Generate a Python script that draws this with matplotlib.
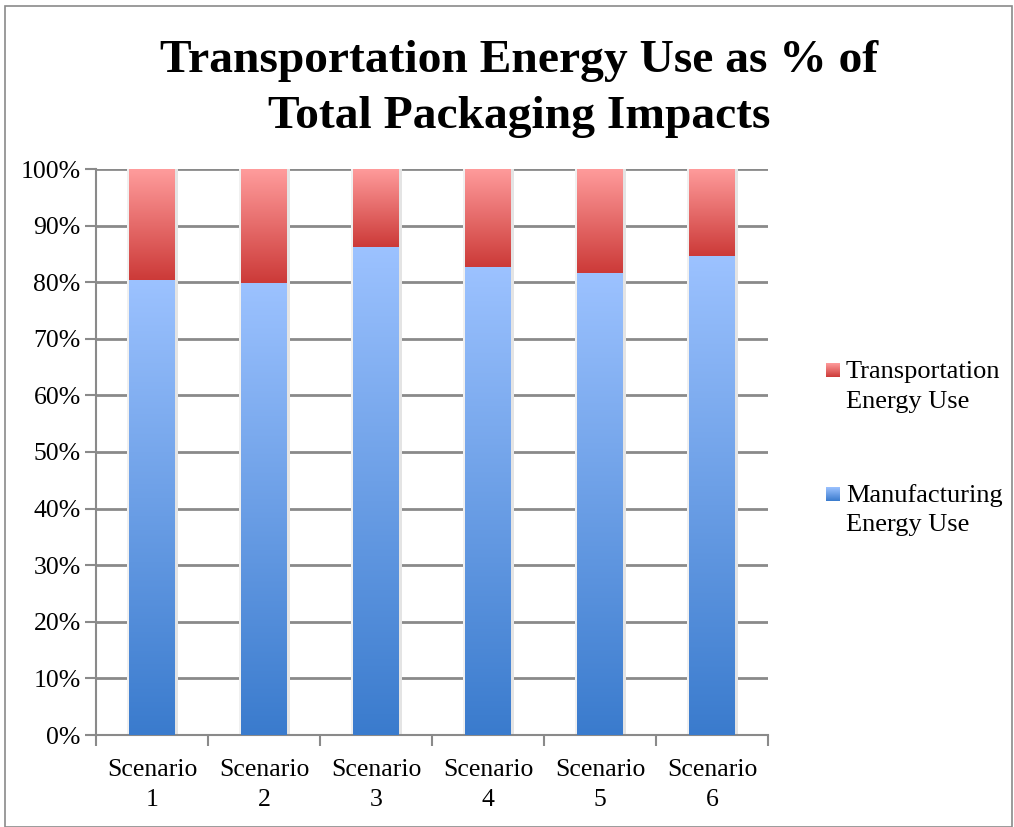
import numpy as np
import matplotlib.pyplot as plt
from matplotlib.colors import LinearSegmentedColormap
from matplotlib.patches import Rectangle

scenarios = ["Scenario\n1", "Scenario\n2", "Scenario\n3", "Scenario\n4", "Scenario\n5", "Scenario\n6"]
manufacturing = [80.4, 79.9, 86.2, 82.6, 81.6, 84.6]
transportation = [100 - m for m in manufacturing]

plt.rcParams['font.family'] = ['Liberation Serif', 'DejaVu Serif']

blue_cmap = LinearSegmentedColormap.from_list("blue", ["#3a7bcd", "#9cc2ff"])
red_cmap = LinearSegmentedColormap.from_list("red", ["#cc3a38", "#ff9c9c"])

W, H = 1014, 827
fig = plt.figure(figsize=(W / 100, H / 100), dpi=100)
ax = fig.add_axes([96 / W, 1 - 735 / H, 672 / W, 566 / H])

x = np.arange(len(scenarios))
width = 0.41
grad = np.linspace(0, 1, 256).reshape(-1, 1)


def gradient_bars(bottoms, heights, cmap, z):
    bars = ax.bar(x, heights, width, bottom=bottoms, color="none", zorder=z)
    for b in bars:
        bx, by = b.get_x(), b.get_y()
        bw, bh = b.get_width(), b.get_height()
        # soft shadow on either side of each bar
        ax.add_patch(Rectangle((bx + bw, by), 0.025, bh, color="#e4e4e4", zorder=z - 0.5, lw=0))
        ax.add_patch(Rectangle((bx - 0.015, by), 0.015, bh, color="#f0f0f0", zorder=z - 0.5, lw=0))
        im = ax.imshow(grad, cmap=cmap, extent=[bx, bx + bw, by, by + bh],
                       origin="lower", aspect="auto", zorder=z)
        im.set_clip_path(b)
    return bars


gradient_bars([0] * 6, manufacturing, blue_cmap, 3)
gradient_bars(manufacturing, transportation, red_cmap, 3)

ax.set_xlim(-0.5, 5.5)
ax.set_ylim(0, 100)
ax.set_yticks(range(0, 101, 10))
ax.set_yticklabels([f"{v}%" for v in range(0, 101, 10)], fontsize=18.5)
ax.yaxis.grid(True, color="#8a8a8a", lw=2)
ax.set_axisbelow(True)

ax.set_xticks(x)
ax.set_xticklabels(scenarios, fontsize=18.5, linespacing=1.5)
ax.set_xticks(np.arange(-0.5, 6, 1), minor=True)
ax.tick_params(axis="x", which="major", length=0, pad=17)
ax.tick_params(axis="x", which="minor", length=8, width=1.5, color="#8a8a8a")
ax.tick_params(axis="y", length=8, width=1.5, color="#8a8a8a", pad=3)

for s in ["top", "right"]:
    ax.spines[s].set_visible(False)
for s in ["left", "bottom"]:
    ax.spines[s].set_color("#8a8a8a")
    ax.spines[s].set_linewidth(1.5)

fig.text(519 / W, 1 - 89 / H, "Transportation Energy Use as % of\nTotal Packaging Impacts",
         ha="center", va="center", fontsize=34.2, fontweight="bold", linespacing=1.43)

# legend with gradient swatches
for top, cmap in [(363, red_cmap), (487, blue_cmap)]:
    sw = fig.add_axes([826 / W, 1 - (top + 14) / H, 14 / W, 14 / H])
    sw.imshow(grad, cmap=cmap, origin="lower", aspect="auto")
    sw.axis("off")
fig.text(846 / W, 1 - 387 / H, "Transportation\nEnergy Use", fontsize=19,
         va="center", ha="left", linespacing=1.44)
fig.text(846 / W, 1 - 510 / H, "Manufacturing\nEnergy Use", fontsize=19,
         va="center", ha="left", linespacing=1.44)

# outer frame
fig.patches.append(Rectangle((5 / W, 0.0), 1 - 7 / W, 1 - 6 / H, transform=fig.transFigure,
                             fill=False, edgecolor="#8a8a8a", lw=1.2))

fig.savefig("out.png", dpi=100)
